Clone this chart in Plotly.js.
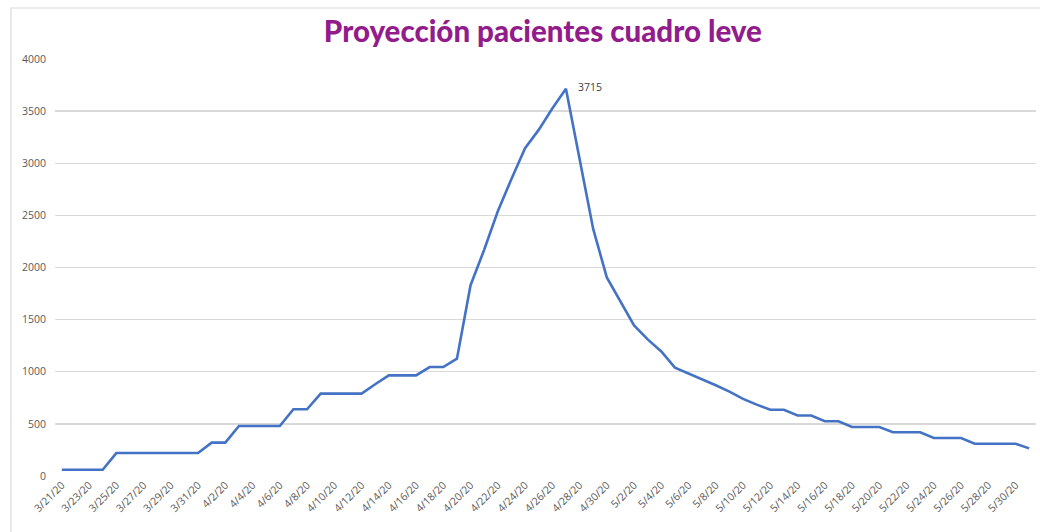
<!DOCTYPE html>
<html>
<head>
<meta charset="utf-8">
<script src="https://cdn.plot.ly/plotly-3.0.1.min.js"></script>
<style>
html,body{margin:0;padding:0;background:#fff;}
#chart{width:1040px;height:532px;}
</style>
</head>
<body>
<div id="chart"></div>
<script>
// Dates 3/21/20 .. 5/31/20
const dates = [
"3/21/20","3/22/20","3/23/20","3/24/20","3/25/20","3/26/20","3/27/20","3/28/20","3/29/20","3/30/20","3/31/20",
"4/1/20","4/2/20","4/3/20","4/4/20","4/5/20","4/6/20","4/7/20","4/8/20","4/9/20","4/10/20",
"4/11/20","4/12/20","4/13/20","4/14/20","4/15/20","4/16/20","4/17/20","4/18/20","4/19/20","4/20/20",
"4/21/20","4/22/20","4/23/20","4/24/20","4/25/20","4/26/20","4/27/20","4/28/20","4/29/20","4/30/20",
"5/1/20","5/2/20","5/3/20","5/4/20","5/5/20","5/6/20","5/7/20","5/8/20","5/9/20","5/10/20",
"5/11/20","5/12/20","5/13/20","5/14/20","5/15/20","5/16/20","5/17/20","5/18/20","5/19/20","5/20/20",
"5/21/20","5/22/20","5/23/20","5/24/20","5/25/20","5/26/20","5/27/20","5/28/20","5/29/20","5/30/20","5/31/20"
];
const pacientes = [
60,60,60,60,220,220,220,220,220,220,220,
320,320,480,480,480,480,640,640,790,790,
790,790,880,965,965,965,1045,1045,1125,1830,
2170,2540,2850,3145,3320,3525,3715,3050,2370,1905,
1670,1445,1310,1195,1040,985,930,870,810,740,
685,635,635,580,580,525,525,470,470,470,
420,420,420,365,365,365,310,310,310,310,265
];
const tickLabels = dates.filter((d,i)=>i%2===0);
const yTicks = [0,500,1000,1500,2000,2500,3000,3500,4000];
const titleText = "Proyección pacientes cuadro leve";
const peakLabel = "3715";

const peakIdx = pacientes.indexOf(Math.max(...pacientes));

const trace = {
  x: dates, y: pacientes, type: 'scatter', mode: 'lines',
  line: {color: '#4472C4', width: 2.6},
  hoverinfo: 'x+y', showlegend: false
};

const layout = {
  width: 1040, height: 532,
  margin: {l: 55, r: 4, t: 59, b: 56},
  paper_bgcolor: '#ffffff', plot_bgcolor: '#ffffff',
  title: {
    text: titleText,
    font: {family: 'Lato, "Open Sans", sans-serif', size: 29.5, weight: 900, color: '#921C8C'},
    x: 0.522, xanchor: 'center', y: 0.94, yanchor: 'middle'
  },
  xaxis: {
    type: 'category',
    range: [-0.5, dates.length - 0.5],
    tickmode: 'array', tickvals: tickLabels, ticktext: tickLabels,
    tickangle: -45,
    tickfont: {family: '"Open Sans", "DejaVu Sans", sans-serif', size: 10.5, color: '#595959'},
    showgrid: false, zeroline: false, showline: false, ticks: ''
  },
  yaxis: {
    range: [0, 4000], tickvals: yTicks,
    tickfont: {family: '"Open Sans", "DejaVu Sans", sans-serif', size: 10.5, color: '#595959'},
    showgrid: true, gridcolor: '#D9D9D9', gridwidth: 1.3,
    zeroline: false, showline: false, ticks: '', ticklabelstandoff: 8
  },
  annotations: [{
    x: dates[peakIdx], y: pacientes[peakIdx], xref: 'x', yref: 'y',
    text: peakLabel, showarrow: false, xanchor: 'left', yanchor: 'middle',
    xshift: 10, yshift: 2,
    font: {family: '"Open Sans", "DejaVu Sans", sans-serif', size: 10.5, color: '#404040'}
  }],
  shapes: [{
    type: 'rect', xref: 'paper', yref: 'paper',
    x0: -0.0449, x1: 1.02, y0: -0.3, y1: 1.1223,
    line: {color: '#D9D9D9', width: 1.2}, fillcolor: 'rgba(0,0,0,0)', layer: 'below'
  }]
};

Plotly.newPlot('chart', [trace], layout, {displayModeBar: false, staticPlot: true});
</script>
</body>
</html>
